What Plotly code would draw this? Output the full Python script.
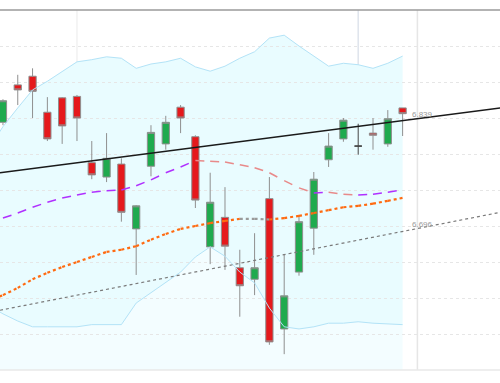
import numpy as np
import plotly.graph_objects as go

# ---- candle data (index positions) ----
idx = list(range(28))
open_ = [6.844, 6.896, 6.908, 6.858, 6.878, 6.880, 6.788, 6.768, 6.786, 6.696, 6.783, 6.814, 6.865, 6.824,
         6.671, 6.712, 6.642, 6.626, 6.738, 6.557, 6.636, 6.697, 6.792, 6.821, 6.811, 6.829, 6.814, 6.864]
high = [6.876, 6.910, 6.919, 6.879, 6.879, 6.882, 6.818, 6.829, 6.794, 6.729, 6.840, 6.853, 6.868, 6.826,
        6.774, 6.754, 6.667, 6.690, 6.768, 6.660, 6.714, 6.775, 6.829, 6.850, 6.842, 6.850, 6.861, 6.864]
low = [6.840, 6.868, 6.850, 6.818, 6.814, 6.818, 6.765, 6.761, 6.706, 6.632, 6.769, 6.806, 6.829, 6.725,
       6.647, 6.639, 6.574, 6.604, 6.535, 6.522, 6.631, 6.660, 6.782, 6.817, 6.799, 6.806, 6.810, 6.825]
close = [6.874, 6.889, 6.887, 6.821, 6.839, 6.850, 6.771, 6.794, 6.719, 6.728, 6.830, 6.844, 6.850, 6.736,
         6.733, 6.672, 6.617, 6.642, 6.539, 6.603, 6.706, 6.765, 6.811, 6.847, 6.811, 6.826, 6.849, 6.856]

# ---- indicator data (start one bar before the visible window) ----
ind_idx = list(range(-1, 28))
bb_upper = [6.806, 6.838, 6.864, 6.889, 6.901, 6.915, 6.928, 6.931, 6.935, 6.933, 6.919, 6.925, 6.928, 6.933,
            6.921, 6.915, 6.922, 6.933, 6.942, 6.961, 6.965, 6.950, 6.936, 6.922, 6.926, 6.924, 6.919, 6.926, 6.936]
bb_lower = [6.590, 6.578, 6.568, 6.560, 6.560, 6.560, 6.560, 6.563, 6.563, 6.563, 6.593, 6.607, 6.621, 6.636,
            6.657, 6.671, 6.658, 6.636, 6.621, 6.586, 6.560, 6.557, 6.560, 6.565, 6.565, 6.567, 6.565, 6.564, 6.563]
bb_mid = [6.704, 6.711, 6.718, 6.726, 6.733, 6.739, 6.743, 6.747, 6.749, 6.750, 6.756, 6.764, 6.774, 6.782,
          6.791, 6.790, 6.789, 6.785, 6.781, 6.774, 6.763, 6.753, 6.746, 6.747, 6.744, 6.743, 6.744, 6.747, 6.750]
ma_slow = [6.596, 6.604, 6.614, 6.626, 6.635, 6.643, 6.650, 6.657, 6.664, 6.667, 6.672, 6.681, 6.689, 6.696,
           6.700, 6.704, 6.707, 6.710, 6.710, 6.709, 6.711, 6.714, 6.718, 6.722, 6.726, 6.728, 6.731, 6.735, 6.739]

# ---- trend lines (anchor points) ----
res_x = [-0.2, 33.6]
res_y = [6.774, 6.864]
sup_x = [-0.2, 33.6]
sup_y = [6.583, 6.719]
label_x = 27.5
res_label = "6.839"
sup_label = "6.696"

# ---- separators ----
sep_x = [5, 24, 28]
sep_col = ["#f1f1f1", "#dfe4ec", "#e6e6e6"]

Y_MIN, Y_MAX = 6.5, 7.0

fig = go.Figure()


def pts(xs, ys):
    return " L ".join(f"{x},{y}" for x, y in zip(xs, ys))


# band fills as shapes (kept beneath the candles)
band_path = "M " + pts(ind_idx, bb_upper) + " L " + pts(ind_idx[::-1], bb_lower[::-1]) + " Z"
below_path = ("M " + pts(ind_idx, bb_lower) + " L " +
              pts([ind_idx[-1], ind_idx[0]], [Y_MIN, Y_MIN]) + " Z")

shapes = [
    dict(type="path", xref="x", yref="y", path=below_path, fillcolor="#f3fdff",
         line=dict(width=0), layer="below"),
    dict(type="path", xref="x", yref="y", path=band_path, fillcolor="#e9fcff",
         line=dict(width=0), layer="below"),
]
for sx, sc in zip(sep_x, sep_col):
    shapes.append(dict(type="line", xref="x", yref="paper", x0=sx, x1=sx, y0=0, y1=1,
                       line=dict(color=sc, width=1.5), layer="below"))
shapes.append(dict(type="line", xref="paper", yref="paper", x0=0, x1=1, y0=1, y1=1,
                   line=dict(color="#9a9a9a", width=1.5)))
shapes.append(dict(type="line", xref="paper", yref="paper", x0=0, x1=1, y0=0, y1=0,
                   line=dict(color="#e8e8e8", width=1.5)))

# candles
norm = [i for i in idx if close[i] != open_[i]]
doji = [i for i in idx if close[i] == open_[i]]
fig.add_trace(go.Candlestick(
    x=norm, open=[open_[i] for i in norm], high=[high[i] for i in norm],
    low=[low[i] for i in norm], close=[close[i] for i in norm],
    increasing=dict(fillcolor="#1faa4e", line=dict(color="#8f8f8f", width=1)),
    decreasing=dict(fillcolor="#e5191c", line=dict(color="#8f8f8f", width=1)),
))
fig.add_trace(go.Candlestick(
    x=doji, open=[open_[i] for i in doji], high=[high[i] for i in doji],
    low=[low[i] for i in doji], close=[close[i] for i in doji],
    increasing=dict(fillcolor="#333", line=dict(color="#444", width=1)),
    decreasing=dict(fillcolor="#333", line=dict(color="#444", width=1)),
))

# band lines
for band in (bb_upper, bb_lower):
    fig.add_trace(go.Scatter(x=ind_idx, y=band, mode="lines",
                             line=dict(color="#b3e3f7", width=1), hoverinfo="skip"))


# direction-coloured moving averages
def seg_traces(vals, up_col, dn_col, dash, width):
    for k in range(len(vals) - 1):
        col = up_col if vals[k + 1] > vals[k] else dn_col
        fig.add_trace(go.Scatter(x=ind_idx[k:k + 2], y=vals[k:k + 2], mode="lines",
                                 line=dict(color=col, width=width, dash=dash), hoverinfo="skip"))


seg_traces(bb_mid, "#b030ff", "#e88a8a", "dash", 1.5)
seg_traces(ma_slow, "#ff6a10", "#9a9a9a", "dot", 2.2)

# trend lines
fig.add_trace(go.Scatter(x=res_x, y=res_y, mode="lines", line=dict(color="#1a1a1a", width=1.5)))
fig.add_trace(go.Scatter(x=sup_x, y=sup_y, mode="lines", line=dict(color="#7a7a7a", width=1.2, dash="dot")))

for lx, ly, txt in ((res_x, res_y, res_label), (sup_x, sup_y, sup_label)):
    fig.add_annotation(x=label_x, y=float(np.interp(label_x, lx, ly)), text=txt, showarrow=False,
                       xanchor="left", yanchor="bottom", yshift=-1,
                       font=dict(family="Liberation Sans", size=8, color="#9a9a9a"))

fig.update_layout(
    width=500, height=383, margin=dict(l=0, r=0, t=10, b=13),
    plot_bgcolor="white", paper_bgcolor="white", showlegend=False, shapes=shapes,
    hovermode=False,
)
fig.update_xaxes(range=[-0.2, 33.58], showticklabels=False, showgrid=False, zeroline=False,
                 rangeslider_visible=False, showline=False)
fig.update_yaxes(range=[Y_MIN, Y_MAX], tickvals=[round(Y_MIN + 0.05 * k, 2) for k in range(11)],
                 showticklabels=False, showgrid=True, gridcolor="#e6e6e6", griddash="dot",
                 zeroline=False, showline=False)

fig.write_html("out.html", config={"displayModeBar": False},
               post_script="document.body.style.margin='0px';")
